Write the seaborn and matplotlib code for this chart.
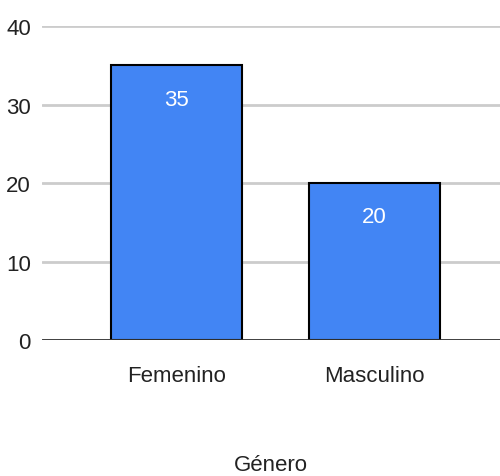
import pandas as pd
import matplotlib
matplotlib.use('Agg')
import matplotlib.pyplot as plt
import seaborn as sns

# data
generos = ['Femenino', 'Masculino']
conteos = [35, 20]
y_ticks = [0, 10, 20, 30, 40]

df = pd.DataFrame({'Género': generos, 'Cantidad': conteos})

sns.set_style('white')
plt.rcParams['font.family'] = ['Liberation Sans', 'DejaVu Sans']

fig = plt.figure(figsize=(5, 4.77), dpi=100)
ax = fig.add_axes([0.084, 0.285, 0.916, 0.658])

sns.barplot(data=df, x='Género', y='Cantidad', color='#4285F4', saturation=1,
            width=0.66, edgecolor='black', linewidth=1.5, ax=ax, zorder=3)

# value labels inside the bars
for i, v in enumerate(conteos):
    ax.text(i, v - 4.3, str(v), ha='center', va='center', color='white',
            fontsize=16, zorder=4)

ax.set_ylim(0, 40)
ax.set_xlim(-0.679, 1.634)
ax.set_yticks(y_ticks)
ax.yaxis.grid(True, color='#cccccc', linewidth=2, zorder=0)
ax.axhline(0, color='#333333', linewidth=2, zorder=5)
for s in ax.spines.values():
    s.set_visible(False)
ax.tick_params(axis='both', length=0, labelsize=16, colors='#222222')
ax.tick_params(axis='x', pad=18)
ax.tick_params(axis='y', pad=8)
ax.set_ylabel('')
ax.set_xlabel('Género', fontsize=16, color='#222222', labelpad=49)

fig.savefig('out.png', dpi=100)
